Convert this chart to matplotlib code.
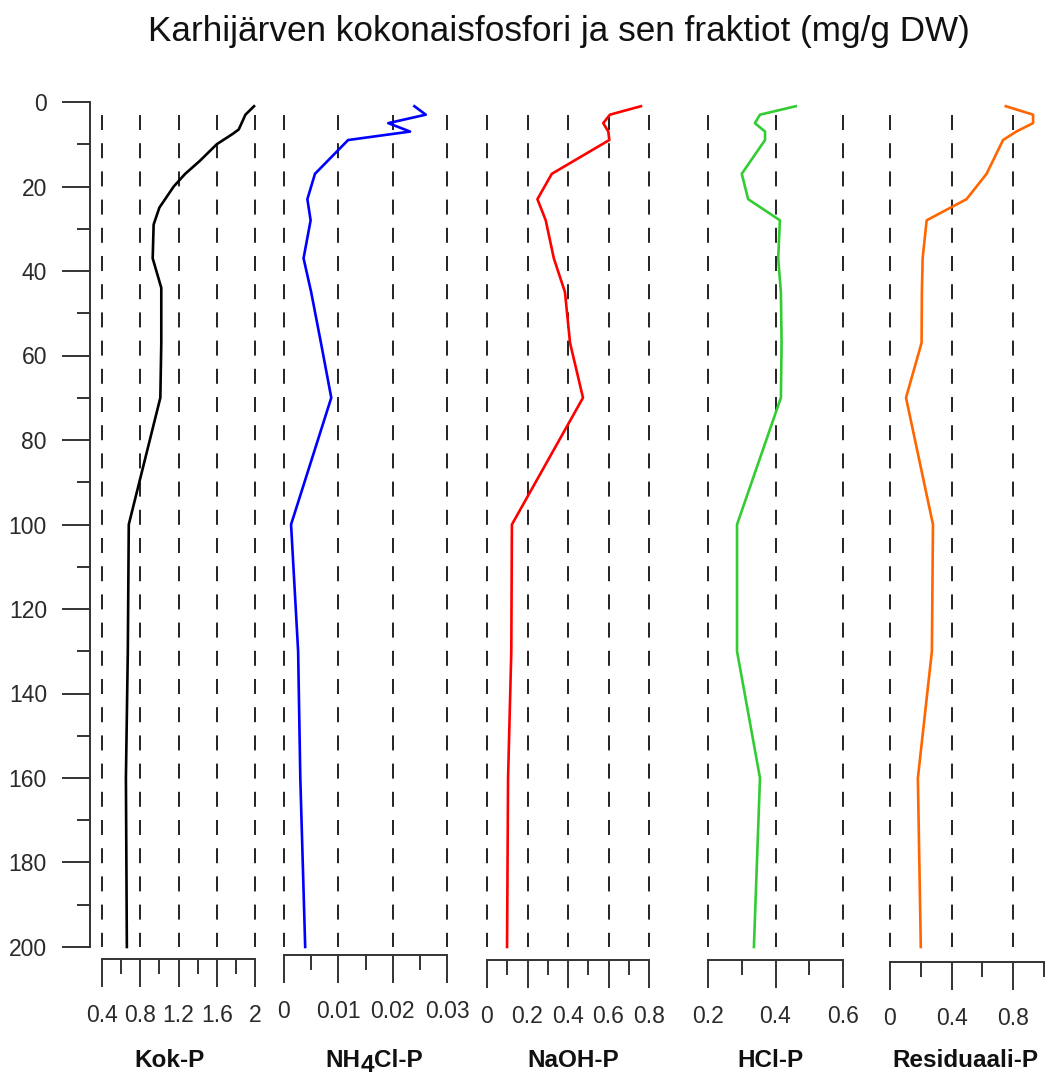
import matplotlib
matplotlib.use('Agg')
import matplotlib.pyplot as plt
from matplotlib.ticker import FixedLocator, FixedFormatter, NullFormatter

# Sediment core profiles, Karhijärvi: depth (cm) vs P concentration (mg/g DW)
DEPTH = [1, 3, 5, 7, 9, 17, 23, 28, 37, 45, 57, 70, 100, 130, 160, 200]
NH4CL_P = [0.0240, 0.0261, 0.0192, 0.0232, 0.0118, 0.0057, 0.0043, 0.0049,
           0.0036, 0.0050, 0.0068, 0.0087, 0.0013, 0.0026, 0.0030, 0.0039]
NAOH_P = [0.760, 0.607, 0.574, 0.599, 0.604, 0.320, 0.249, 0.290,
          0.330, 0.385, 0.410, 0.474, 0.123, 0.120, 0.104, 0.099]
HCL_P = [0.460, 0.354, 0.339, 0.369, 0.369, 0.300, 0.319, 0.413,
         0.408, 0.416, 0.418, 0.416, 0.286, 0.286, 0.354, 0.336]
RES_P = [0.752, 0.929, 0.929, 0.820, 0.734, 0.627, 0.497, 0.238,
         0.212, 0.207, 0.205, 0.104, 0.279, 0.272, 0.181, 0.200]

# total P was measured more densely in the top layers
KOK_DEPTH = [1, 3, 6.5, 7.5, 10, 14, 17, 18.5, 20, 22, 25, 29, 37, 44, 57,
             70, 100, 130, 145, 160, 200]
KOK_P = [1.99, 1.90, 1.83, 1.77, 1.60, 1.42, 1.27, 1.21, 1.15, 1.09, 1.00,
         0.94, 0.93, 1.02, 1.02, 1.01, 0.68, 0.67, 0.66, 0.65, 0.66]

DEPTH_MAJOR = list(range(0, 201, 20))
DEPTH_MINOR = list(range(10, 200, 20))

KOK_TICKS = [0.4, 0.8, 1.2, 1.6, 2.0]
KOK_LABELS = ['0.4', '0.8', '1.2', '1.6', '2']
NH4_TICKS = [0, 0.01, 0.02, 0.03]
NH4_LABELS = ['0', '0.01', '0.02', '0.03']
NAOH_TICKS = [0, 0.2, 0.4, 0.6, 0.8]
NAOH_LABELS = ['0', '0.2', '0.4', '0.6', '0.8']
HCL_TICKS = [0.2, 0.4, 0.6]
HCL_LABELS = ['0.2', '0.4', '0.6']
RES_TICKS = [0, 0.4, 0.8]
RES_LABELS = ['0', '0.4', '0.8']

TITLE = 'Karhijärven kokonaisfosfori ja sen fraktiot (mg/g DW)'

plt.rcParams['font.family'] = ['Liberation Sans', 'DejaVu Sans']
plt.rcParams['lines.scale_dashes'] = False

W, H = 1046, 1079
PX = 72 / 100          # points per pixel at dpi 100
TOP, BOT = 102, 947    # pixel rows of depth 0 and 200
AX_COLOR = '#333333'
GRID_COLOR = '#222222'
LABEL_COLOR = '#2a2a2a'

fig = plt.figure(figsize=(W / 100, H / 100), dpi=100)
fig.patch.set_facecolor('white')


def add_panel(x0, x1):
    return fig.add_axes([x0 / W, (H - BOT) / H, (x1 - x0) / W, (BOT - TOP) / H])


# (depth, values, colour, pixel span, xlim, ticks, labels, minor ticks, spine offset)
panels = [
    (KOK_DEPTH, KOK_P, 'black', (102, 255), (0.4, 2.0), KOK_TICKS, KOK_LABELS,
     [0.6, 1.0, 1.4, 1.8], 12),
    (DEPTH, NH4CL_P, '#0000ff', (284, 447), (0, 0.03), NH4_TICKS, NH4_LABELS,
     [0.005, 0.015, 0.025], 8),
    (DEPTH, NAOH_P, '#ff0000', (487, 649), (0, 0.8), NAOH_TICKS, NAOH_LABELS,
     [0.1, 0.3, 0.5, 0.7], 13),
    (DEPTH, HCL_P, '#33cc33', (708, 843), (0.2, 0.6), HCL_TICKS, HCL_LABELS,
     [0.3, 0.5], 13),
    (DEPTH, RES_P, '#ff6600', (890, 1044), (0, 1.0), RES_TICKS, RES_LABELS,
     [0.2, 0.6, 1.0], 15),
]

axes = []
for depth, vals, color, (x0, x1), xlim, ticks, labels, minor, off in panels:
    ax = add_panel(x0, x1)
    ax.set_xlim(*xlim)
    ax.set_ylim(200, 0)
    ax.patch.set_alpha(0)
    for side in ('top', 'right', 'left'):
        ax.spines[side].set_visible(False)
    sp = ax.spines['bottom']
    sp.set_position(('outward', off * PX))
    sp.set_color(AX_COLOR)
    sp.set_linewidth(1.4)

    ax.xaxis.set_major_locator(FixedLocator(ticks))
    ax.xaxis.set_major_formatter(FixedFormatter(labels))
    ax.xaxis.set_minor_locator(FixedLocator(minor))
    ax.xaxis.set_minor_formatter(NullFormatter())
    ax.tick_params(axis='x', which='major', direction='out', length=28 * PX,
                   width=1.4, color=AX_COLOR, pad=17 * PX, labelsize=16.5,
                   labelcolor=LABEL_COLOR)
    ax.tick_params(axis='x', which='minor', direction='out', length=14.5 * PX,
                   width=1.4, color=AX_COLOR)
    ax.set_yticks([])

    for g in ticks:
        ax.plot([g, g], [3, 200], color=GRID_COLOR, lw=1.4,
                dashes=(15 * PX, 13.2 * PX), clip_on=False, zorder=1)

    ax.plot(vals, depth, color=color, lw=1.9, clip_on=False,
            solid_joinstyle='round', zorder=3)
    axes.append(ax)

# depth axis lives on the first panel
ax0 = axes[0]
ax0.spines['left'].set_visible(True)
ax0.spines['left'].set_position(('outward', 12 * PX))
ax0.spines['left'].set_color(AX_COLOR)
ax0.spines['left'].set_linewidth(1.4)
ax0.yaxis.set_major_locator(FixedLocator(DEPTH_MAJOR))
ax0.yaxis.set_minor_locator(FixedLocator(DEPTH_MINOR))
ax0.yaxis.set_minor_formatter(NullFormatter())
ax0.tick_params(axis='y', which='major', direction='out', length=28 * PX,
                width=1.4, color=AX_COLOR, pad=15 * PX, labelsize=16.5,
                labelcolor=LABEL_COLOR)
ax0.tick_params(axis='y', which='minor', direction='out', length=13 * PX,
                width=1.4, color=AX_COLOR)

fig.text(559 / W, 1 - 31 / H, TITLE, fontsize=25.3, ha='center', va='center',
         color='#111111')


def panel_name(parts, cx, baseline):
    # parts: (text, vertical shift in px); pieces laid out left to right
    r = fig.canvas.get_renderer()
    texts = [fig.text(0, 0, s, fontsize=17.5, fontweight='bold', color='#111111',
                      ha='left', va='baseline') for s, _ in parts]
    widths = [t.get_window_extent(r).width for t in texts]
    x = cx - sum(widths) / 2
    for t, (_, dy), w in zip(texts, parts, widths):
        t.set_position((x / W, 1 - (baseline + dy) / H))
        x += w


panel_name([('Kok-P', 0)], 170, 1067)
panel_name([('NH', 0), ('4', 5), ('Cl-P', 0)], 374, 1067)
panel_name([('NaOH-P', 0)], 573, 1067)
panel_name([('HCl-P', 0)], 770, 1067)
panel_name([('Residuaali-P', 0)], 965, 1067)

fig.savefig('out.png', dpi=100, facecolor='white')
